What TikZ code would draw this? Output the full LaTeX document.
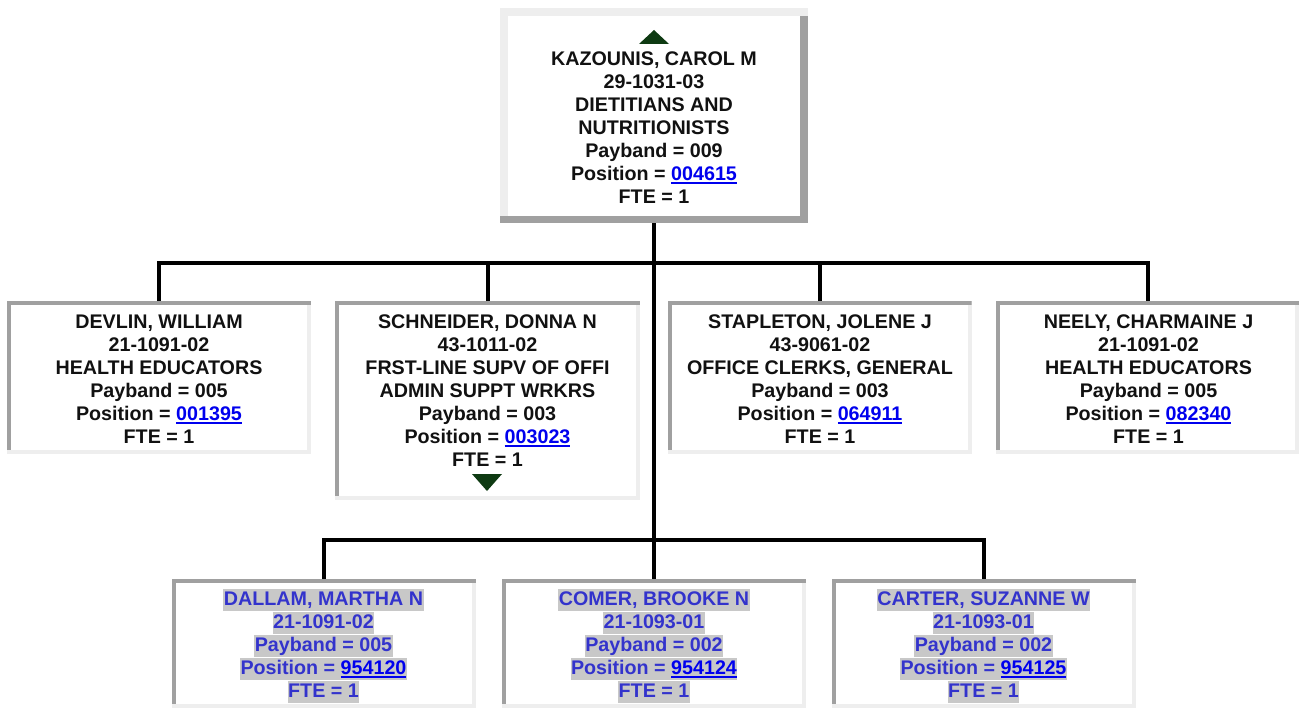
\documentclass[tikz,border=0pt]{standalone}
\usepackage{fontspec}
\setmainfont{Liberation Sans}
\definecolor{dg}{HTML}{A0A0A0}
\definecolor{lg}{HTML}{EEEEEE}
\definecolor{hl}{HTML}{C8C8C8}
\definecolor{bt}{HTML}{3333CC}
\definecolor{lk}{HTML}{0000EE}
\definecolor{tx}{HTML}{111111}
\definecolor{tri}{HTML}{0E3A12}
\newcommand\lnk[1]{{\color{lk}\setbox0=\hbox{#1}\rlap{\rule[-3.5pt]{\wd0}{2pt}}\box0}}
\newcommand\fl{\rule{0pt}{16pt}}
\newcommand\hln[1]{{\setlength{\fboxsep}{0.5pt}\colorbox{hl}{\rule[-5pt]{0pt}{21pt}#1}}}
\tikzset{
  insetbox/.style={rectangle, draw=none, inner sep=0pt, outer sep=0pt, fill=lg,
    path picture={
      \fill[dg] (path picture bounding box.north west) rectangle ([yshift=-4pt]path picture bounding box.north east);
      \fill[dg] (path picture bounding box.north west) rectangle ([shift={(4pt,4pt)}]path picture bounding box.south west);
      \fill[white] ([shift={(4pt,-4pt)}]path picture bounding box.north west) rectangle ([shift={(-4pt,4pt)}]path picture bounding box.south east);
    }},
  raisedbox/.style={rectangle, draw=none, inner sep=0pt, outer sep=0pt, fill=dg,
    path picture={
      \fill[lg] (path picture bounding box.north west) rectangle ([yshift=-8pt]path picture bounding box.north east);
      \fill[lg] (path picture bounding box.north west) rectangle ([shift={(8pt,7pt)}]path picture bounding box.south west);
      \fill[white] ([shift={(8pt,-8pt)}]path picture bounding box.north west) rectangle ([shift={(-8pt,7pt)}]path picture bounding box.south east);
    }},
  txt/.style={align=center, anchor=north, inner sep=0pt, outer sep=0pt,
    font=\bfseries\fontsize{19.7pt}{23pt}\selectfont, text=tx},
  btxt/.style={txt, text=bt},
  conn/.style={line width=4pt, draw=black, line join=miter},
  trifill/.style={fill=tri}
}
\begin{document}
\begin{tikzpicture}[x=1pt,y=-1pt]
\useasboundingbox (0,0) rectangle (1299,709);
% boxes
\node[raisedbox, minimum width=308pt, minimum height=215pt] (top) at (654,115.5) {};
\node[insetbox, minimum width=304pt, minimum height=153pt] (b1) at (159,377.5) {};
\node[insetbox, minimum width=305pt, minimum height=199pt] (b2) at (487.5,400.5) {};
\node[insetbox, minimum width=304pt, minimum height=153pt] (b3) at (819.5,377.5) {};
\node[insetbox, minimum width=303pt, minimum height=153pt] (b4) at (1147.5,377.5) {};
\node[insetbox, minimum width=304pt, minimum height=129pt] (c1) at (324,643.5) {};
\node[insetbox, minimum width=304pt, minimum height=129pt] (c2) at (654,643.5) {};
\node[insetbox, minimum width=304pt, minimum height=129pt] (c3) at (984,643.5) {};
% texts
\node[txt] (ttop) at (654,49) {\fl KAZOUNIS, CAROL M\\29-1031-03\\DIETITIANS AND\\NUTRITIONISTS\\Payband = 009\\Position = \lnk{004615}\\FTE = 1};
\node[txt] (tb1) at (159,312) {\fl DEVLIN, WILLIAM\\21-1091-02\\HEALTH EDUCATORS\\Payband = 005\\Position = \lnk{001395}\\FTE = 1};
\node[txt] (tb2) at (487.5,312) {\fl SCHNEIDER, DONNA N\\43-1011-02\\FRST-LINE SUPV OF OFFI\\ADMIN SUPPT WRKRS\\Payband = 003\\Position = \lnk{003023}\\FTE = 1};
\node[txt] (tb3) at (820,312) {\fl STAPLETON, JOLENE J\\43-9061-02\\OFFICE CLERKS, GENERAL\\Payband = 003\\Position = \lnk{064911}\\FTE = 1};
\node[txt] (tb4) at (1148.5,312) {\fl NEELY, CHARMAINE J\\21-1091-02\\HEALTH EDUCATORS\\Payband = 005\\Position = \lnk{082340}\\FTE = 1};
\node[btxt] (tc1) at (323.5,588.5) {\hln{DALLAM, MARTHA N}\\\hln{21-1091-02}\\\hln{Payband = 005}\\\hln{Position = \lnk{954120}}\\\hln{FTE = 1}};
\node[btxt] (tc2) at (654,588.5) {\hln{COMER, BROOKE N}\\\hln{21-1093-01}\\\hln{Payband = 002}\\\hln{Position = \lnk{954124}}\\\hln{FTE = 1}};
\node[btxt] (tc3) at (983.5,588.5) {\hln{CARTER, SUZANNE W}\\\hln{21-1093-01}\\\hln{Payband = 002}\\\hln{Position = \lnk{954125}}\\\hln{FTE = 1}};
% triangles
\fill[trifill] (639,44) -- (669,44) -- (654,30) -- cycle;
\fill[trifill] (472,474) -- (502,474) -- (487,491) -- cycle;
% connectors
\coordinate (h1) at (0,263);
\coordinate (h2) at (0,540);
\draw[conn] (top.south) -- (c2.north);
\draw[conn] (b1.north) |- (b4.north |- h1) -- (b4.north);
\draw[conn] (b2.north) -- (b2.north |- h1);
\draw[conn] (b3.north) -- (b3.north |- h1);
\draw[conn] (c1.north) |- (c3.north |- h2) -- (c3.north);
\end{tikzpicture}
\end{document}
